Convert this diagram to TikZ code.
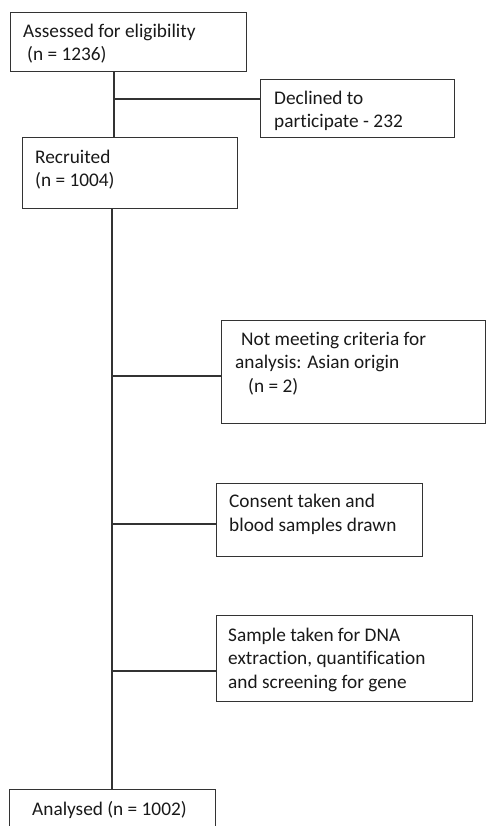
\documentclass[tikz,border=0pt]{standalone}
\usepackage{fontspec}
\setmainfont[Ligatures=NoCommon]{Carlito}
\begin{document}
\begin{tikzpicture}[x=1pt,y=-1pt,
  line/.style={draw=black!80,line width=1.2pt},
  box/.style={line, rectangle, inner sep=0pt, anchor=north west},
  txt/.style={anchor=base west, inner sep=0pt, align=left, font=\fontsize{19.3}{23.5}\selectfont, text=black!90}]
\clip (0,0) rectangle (486,826);
\useasboundingbox (0,0) rectangle (486,826);
% boxes
\node[box, minimum width=236pt, minimum height=59pt] (b1) at (10,12) {};
\node[box, minimum width=194pt, minimum height=58pt] (dec) at (260,79) {};
\node[box, minimum width=215pt, minimum height=71pt] (rec) at (22,137) {};
\node[box, minimum width=264pt, minimum height=103pt] (notm) at (221,320) {};
\node[box, minimum width=206pt, minimum height=73pt] (cons) at (216,483) {};
\node[box, minimum width=256pt, minimum height=86pt] (samp) at (216,615) {};
\node[box, minimum width=206pt, minimum height=60pt] (ana) at (9,789) {};
% texts (anchored at the baseline of their last line)
\node[txt] (tb1) at (23,61) {Assessed for eligibility\\\hspace*{4pt}(n = 1236)};
\node[txt] (tdec) at (274,128) {Declined to\\participate - 232};
\node[txt] (trec) at (35,187) {Recruited\\(n = 1004)};
\node[txt] (tnotm) at (235,392) {\hspace*{6pt}Not meeting criteria for\\analysis: Asian origin\\\hspace*{13pt}(n = 2)};
\node[txt] (tcons) at (229,531) {Consent taken and\\blood samples drawn};
\node[txt] (tsamp) at (228,688) {Sample taken for DNA\\extraction, quantification\\and screening for gene};
\node[txt] (tana) at (32,815) {Analysed (n = 1002)};
% trunk coordinates
\coordinate (ta) at (114,0);
\coordinate (tb) at (112,0);
\coordinate (j1) at (114,99);
\coordinate (j2) at (112,376);
\coordinate (j3) at (112,524);
\coordinate (j4) at (112,671);
% connectors
\draw[line] (b1.south -| ta) -- (rec.north -| ta);
\draw[line] (j1) -- (j1 -| dec.west);
\draw[line] (rec.south -| tb) -- (ana.north -| tb);
\draw[line] (j2) -- (j2 -| notm.west);
\draw[line] (j3) -- (j3 -| cons.west);
\draw[line] (j4) -- (j4 -| samp.west);
\end{tikzpicture}
\end{document}
